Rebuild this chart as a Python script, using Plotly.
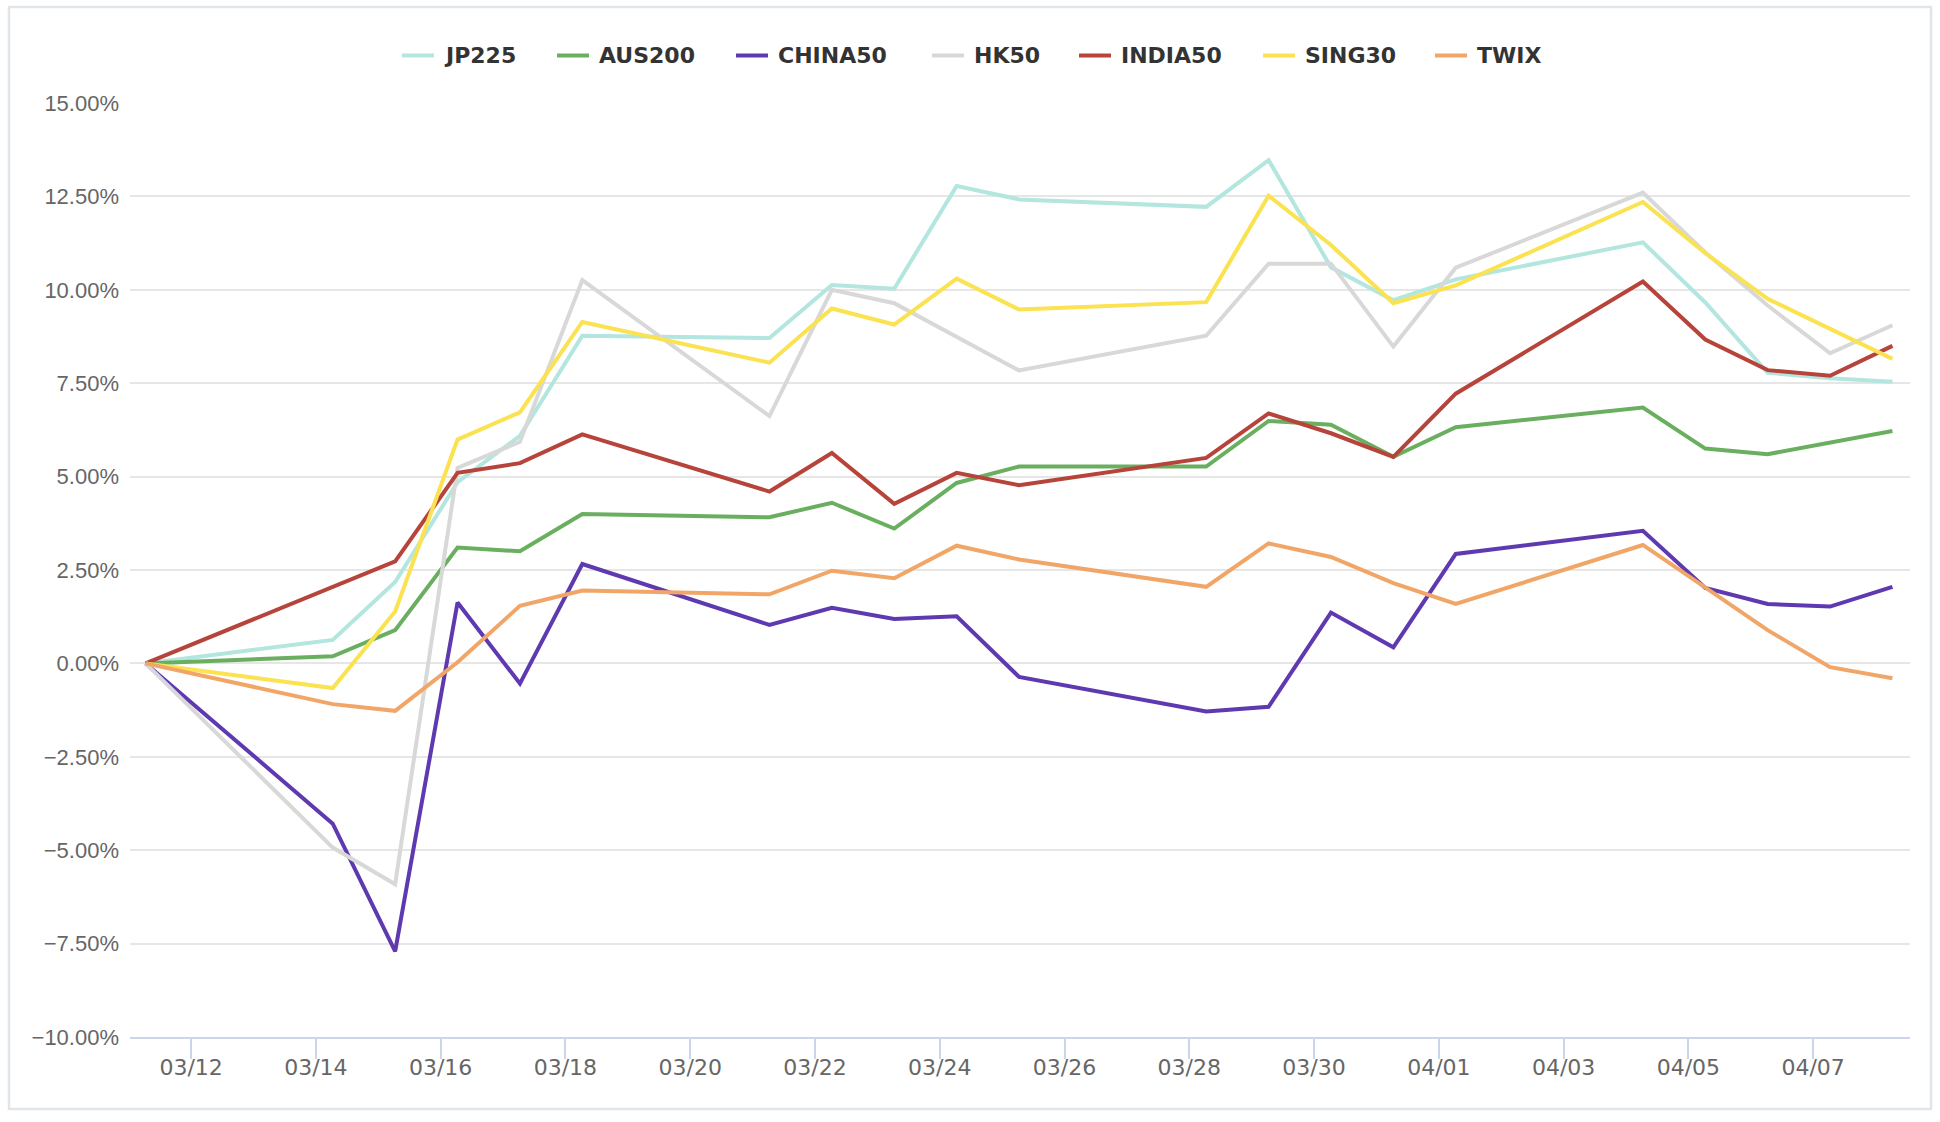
import pandas as pd
import plotly.graph_objects as go

dates = ["2022-03-11", "2022-03-14", "2022-03-15", "2022-03-16", "2022-03-17", "2022-03-18",
         "2022-03-21", "2022-03-22", "2022-03-23", "2022-03-24", "2022-03-25",
         "2022-03-28", "2022-03-29", "2022-03-30", "2022-03-31", "2022-04-01",
         "2022-04-04", "2022-04-05", "2022-04-06", "2022-04-07", "2022-04-08"]

jp225 = [0, 0.63, 2.18, 4.85, 6.09, 8.77, 8.71, 10.13, 10.03, 12.78, 12.42,
         12.22, 13.47, 10.6, 9.72, 10.28, 11.27, 9.66, 7.78, 7.63, 7.54]
aus200 = [0, 0.19, 0.89, 3.1, 3.0, 4.0, 3.91, 4.3, 3.61, 4.83, 5.27,
          5.27, 6.49, 6.39, 5.53, 6.32, 6.85, 5.75, 5.6, 5.92, 6.22]
china50 = [0, -4.29, -7.71, 1.63, -0.54, 2.66, 1.03, 1.49, 1.19, 1.26, -0.36,
           -1.29, -1.16, 1.36, 0.43, 2.93, 3.55, 2.02, 1.59, 1.52, 2.05]
hk50 = [0, -4.93, -5.91, 5.23, 5.93, 10.26, 6.62, 10.0, 9.64, 8.74, 7.84,
        8.77, 10.7, 10.7, 8.48, 10.59, 12.6, 11.0, 9.58, 8.3, 9.05]
india50 = [0, 2.03, 2.73, 5.1, 5.36, 6.13, 4.6, 5.63, 4.27, 5.1, 4.77,
           5.5, 6.69, 6.16, 5.53, 7.22, 10.22, 8.67, 7.85, 7.7, 8.5]
sing30 = [0, -0.66, 1.39, 5.99, 6.72, 9.14, 8.05, 9.5, 9.07, 10.3, 9.47,
          9.67, 12.52, 11.2, 9.64, 10.12, 12.35, 10.98, 9.76, 8.96, 8.15]
twix = [0, -1.09, -1.27, 0.03, 1.54, 1.95, 1.85, 2.48, 2.28, 3.15, 2.78,
        2.05, 3.21, 2.85, 2.15, 1.59, 3.17, 2.02, 0.89, -0.1, -0.4]

series_names = ["JP225", "AUS200", "CHINA50", "HK50", "INDIA50", "SING30", "TWIX"]
series_values = [jp225, aus200, china50, hk50, india50, sing30, twix]
series_colors = ["#b2e6de", "#6aaf60", "#5e39b0", "#d8d8d8", "#b7443b", "#fae250", "#f1a668"]

# legend layout (pixel positions of each legend symbol's left edge)
legend_icon_x = [402, 557, 736, 932, 1079, 1263, 1435]
legend_y = 55.5

x = pd.to_datetime(dates) + pd.Timedelta(hours=6, minutes=30)

W, H = 1940, 1122
L, R, T, B = 130, 30, 103, 85
pw, ph = W - L - R, H - T - B


def px(xp):
    return (xp - L) / pw


def py(yp):
    return (H - B - yp) / ph


fig = go.Figure()
for name, vals, color in zip(series_names, series_values, series_colors):
    fig.add_trace(go.Scatter(x=x, y=vals, name=name, mode="lines",
                             line=dict(color=color, width=4), showlegend=False))

shapes = [dict(type="rect", xref="paper", yref="paper",
               x0=px(9), x1=px(1931), y0=py(1109), y1=py(7),
               line=dict(color="#dfe5e9", width=2.5), fillcolor="rgba(0,0,0,0)",
               layer="below")]
annotations = []
for name, color, ix in zip(series_names, series_colors, legend_icon_x):
    shapes.append(dict(type="line", xref="paper", yref="paper",
                       x0=px(ix), x1=px(ix + 32), y0=py(legend_y), y1=py(legend_y),
                       line=dict(color=color, width=4)))
    annotations.append(dict(xref="paper", yref="paper", x=px(ix + 40), y=py(legend_y),
                            xanchor="left", yanchor="middle", showarrow=False,
                            text=name,
                            font=dict(family="DejaVu Sans", size=22, color="#333333",
                                      weight="bold")))

fig.update_layout(
    width=W, height=H,
    margin=dict(l=L, r=R, t=T, b=B),
    paper_bgcolor="white", plot_bgcolor="white",
    showlegend=False,
    xaxis=dict(type="date", range=["2022-03-11 00:30", "2022-04-08 13:15"],
               tick0="2022-03-12", dtick=2 * 86400000, tickformat="%m/%d",
               showgrid=False, showline=True, linecolor="#ccd6eb", linewidth=2,
               ticks="outside", ticklen=20, tickcolor="#ccd6eb", tickwidth=2,
               ticklabelstandoff=-10,
               tickfont=dict(family="DejaVu Sans", size=22, color="#666666"),
               zeroline=False),
    yaxis=dict(range=[-10, 15], tick0=-10, dtick=2.5, tickformat=".2f", ticksuffix="%",
               showgrid=True, gridcolor="#e6e6e6", gridwidth=2,
               zeroline=False, showline=False, ticks="", ticklabelstandoff=10,
               tickfont=dict(family="Liberation Sans", size=22, color="#666666")),
    shapes=shapes,
    annotations=annotations,
)

fig.write_html("out.html")
